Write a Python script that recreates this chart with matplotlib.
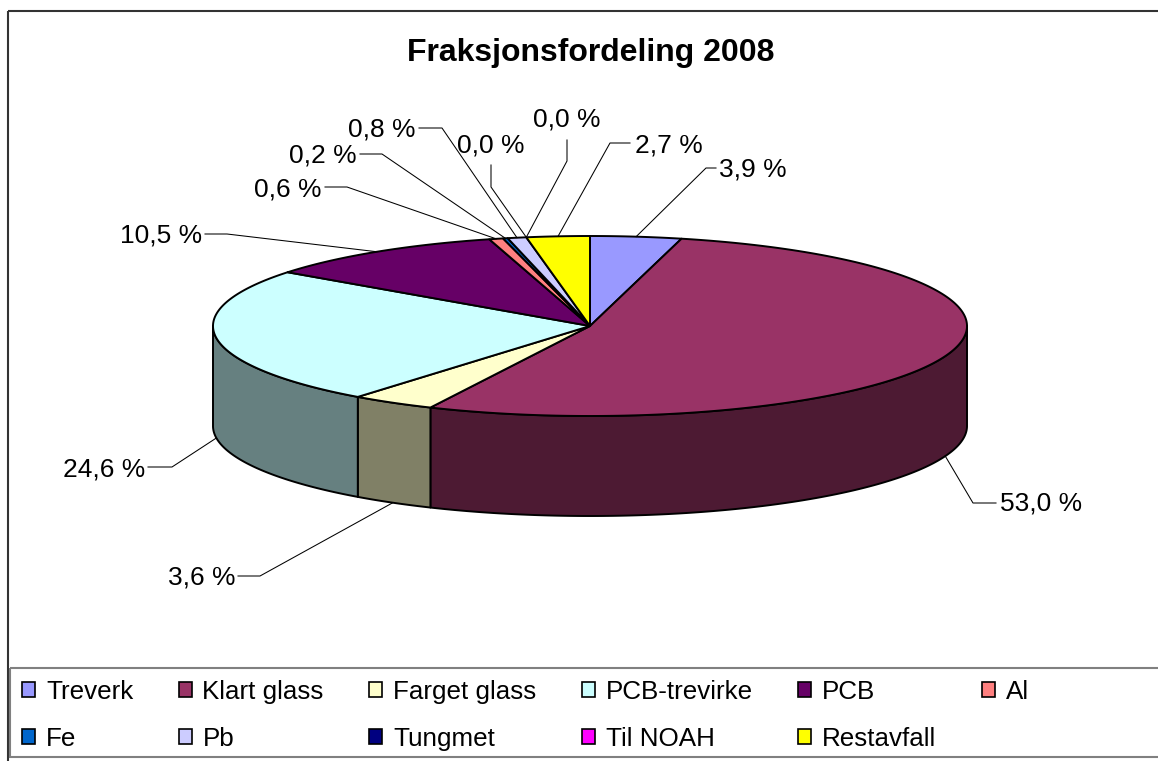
import numpy as np
import matplotlib
matplotlib.use("Agg")
import matplotlib.pyplot as plt
from matplotlib.colors import to_rgb
from matplotlib.patches import Patch, Polygon, Rectangle

plt.rcParams["font.family"] = ["Liberation Sans", "DejaVu Sans"]

# --- data ---
title = "Fraksjonsfordeling 2008"
categories = ["Treverk", "Klart glass", "Farget glass", "PCB-trevirke", "PCB", "Al",
              "Fe", "Pb", "Tungmet", "Til NOAH", "Restavfall"]
shares = [3.9, 53.0, 3.6, 24.6, 10.5, 0.6, 0.2, 0.8, 0.0, 0.0, 2.7]
colors = ["#9999FF", "#993366", "#FFFFCC", "#CCFFFF", "#660066", "#FF8080",
          "#0066CC", "#CCCCFF", "#000080", "#FF00FF", "#FFFF00"]

# --- layout (pixels, y down) ---
W, H = 1158, 761
CX, CY = 590, 326      # pie centre (top face)
RX, RY = 377, 90       # top face ellipse radii
DEPTH = 100            # thickness of the pie

# leader line bends / text position for each label
label_layout = [
    ([(706, 168), (716, 168)], 719, 177, "left"),
    ([(973, 503), (996, 503)], 1000, 511, "left"),
    ([(260, 576), (238, 576)], 235, 585, "right"),
    ([(172, 467), (148, 467)], 145, 476, "right"),
    ([(227, 234), (205, 234)], 202, 243, "right"),
    ([(347, 187), (325, 187)], 322, 196, "right"),
    ([(382, 154), (360, 154)], 357, 163, "right"),
    ([(442, 128), (419, 128)], 416, 137, "right"),
    ([(491, 187), (491, 165)], 491, 152, "center"),
    ([(567, 161), (567, 140)], 567, 126, "center"),
    ([(610, 143), (630, 143)], 635, 152, "left"),
]


def ellipse_pt(theta_deg, drop=0.0):
    t = np.radians(theta_deg)
    return CX + RX * np.sin(t), CY - RY * np.cos(t) + drop


def arc(a0, a1, drop=0.0):
    n = max(int(abs(a1 - a0) * 2), 2)
    th = np.linspace(a0, a1, n)
    x, y = ellipse_pt(th, drop)
    return np.column_stack([x, y])


def darker(c):
    r, g, b = to_rgb(c)
    return (r * 0.5, g * 0.5, b * 0.5)


fig = plt.figure(figsize=(W / 100, H / 100), dpi=100)
ax = fig.add_axes([0, 0, 1, 1])
ax.set_xlim(0, W)
ax.set_ylim(H, 0)
ax.axis("off")

vals = np.array(shares, dtype=float)
bounds = np.concatenate([[0], np.cumsum(vals / vals.sum()) * 360])

# side walls (front half only), then top faces
for i, c in enumerate(colors):
    a0, a1 = bounds[i], bounds[i + 1]
    if a1 - a0 <= 0:
        continue
    lo, hi = max(a0, 90), min(a1, 270)
    if lo < hi:
        pts = np.vstack([arc(lo, hi), arc(hi, lo, DEPTH)])
        ax.add_patch(Polygon(pts, closed=True, facecolor=darker(c), edgecolor="black",
                             linewidth=1.4, joinstyle="round", zorder=1))

for i, c in enumerate(colors):
    a0, a1 = bounds[i], bounds[i + 1]
    if a1 - a0 <= 0:
        continue
    pts = np.vstack([[CX, CY], arc(a0, a1)])
    ax.add_patch(Polygon(pts, closed=True, facecolor=c, edgecolor="black",
                         linewidth=1.4, joinstyle="round", zorder=2))

# data labels with leader lines
for i, v in enumerate(shares):
    mid = (bounds[i] + bounds[i + 1]) / 2
    drop = DEPTH if 90 < mid < 270 else 0
    ax0, ay0 = ellipse_pt(mid, drop)
    bends, tx, ty, ha = label_layout[i]
    xs = [ax0] + [p[0] for p in bends]
    ys = [ay0] + [p[1] for p in bends]
    ax.plot(xs, ys, color="black", linewidth=0.75, zorder=3)
    txt = f"{v:.1f} %".replace(".", ",")
    ax.text(tx, ty, txt, ha=ha, va="baseline", fontsize=19, zorder=4)

ax.text(591, 61, title, ha="center", va="baseline", fontsize=23, fontweight="bold")

# outer chart frame and legend frame
ax.add_patch(Rectangle((8, 11), W + 50, H + 50, fill=False, edgecolor="#333333",
                       linewidth=1.5, zorder=0))
ax.add_patch(Rectangle((10, 668), W + 50, 89, fill=False, edgecolor="#808080",
                       linewidth=1.5, zorder=0))

# legend: row-major order in 6 columns
order = [0, 6, 1, 7, 2, 8, 3, 9, 4, 10, 5]
handles = [Patch(facecolor=colors[i], edgecolor="black", linewidth=1.2) for i in order]
fig.legend(handles, [categories[i] for i in order], ncol=6, loc="upper left",
           bbox_to_anchor=(22 / W, 1 - 680 / H), frameon=False, fontsize=18.7,
           handlelength=0.5, handleheight=0.5, handletextpad=0.42,
           columnspacing=1.75, labelspacing=0.88, borderpad=0, borderaxespad=0)

fig.savefig("out.png", dpi=100)
